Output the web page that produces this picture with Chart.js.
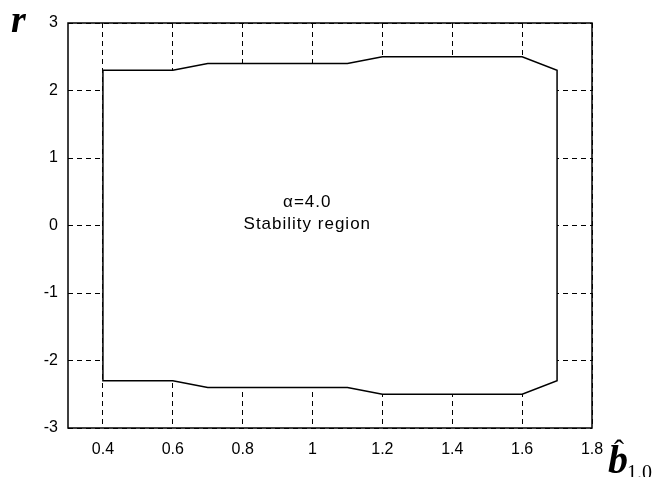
<!DOCTYPE html>
<html>
<head>
<meta charset="utf-8">
<script src="https://cdn.jsdelivr.net/npm/chart.js@4"></script>
<style>
  html, body { margin: 0; padding: 0; background: #fff; }
  #wrap { width: 653px; height: 477px; position: relative; }
</style>
</head>
<body>
<div id="wrap"><canvas id="chart"></canvas></div>
<script>
// boundary of the stability region (closed polygon)
const bHat = [0.4, 0.6, 0.7, 1.1, 1.2, 1.6, 1.7, 1.7, 1.6, 1.2, 1.1, 0.7, 0.6, 0.4, 0.4];
const rVals = [2.3, 2.3, 2.4, 2.4, 2.5, 2.5, 2.3, -2.3, -2.5, -2.5, -2.4, -2.4, -2.3, -2.3, 2.3];
const xTicks = [0.4, 0.6, 0.8, 1, 1.2, 1.4, 1.6, 1.8];
const yTicks = [-3, -2, -1, 0, 1, 2, 3];
const noteLines = ['\u03b1=4.0', 'Stability region'];

const tickFont = { family: 'Arial, "Liberation Sans", sans-serif', size: 16 };

const extras = {
  id: 'extras',
  afterDraw(c) {
    const g = c.ctx, a = c.chartArea;
    const xs = c.scales.x, ys = c.scales.y;
    g.save();
    // box round the plot
    g.strokeStyle = '#000';
    g.lineWidth = 1.5;
    g.setLineDash([]);
    g.strokeRect(a.left, a.top, a.right - a.left, a.bottom - a.top);

    // note in the middle
    g.fillStyle = '#000';
    g.font = '17px Arial, "Liberation Sans", sans-serif';
    g.textAlign = 'center';
    g.textBaseline = 'middle';
    try { g.letterSpacing = '1px'; } catch (e) {}
    g.fillText(noteLines[0], xs.getPixelForValue(0.985), ys.getPixelForValue(0.35));
    g.fillText(noteLines[1], xs.getPixelForValue(0.985), ys.getPixelForValue(0.02));
    try { g.letterSpacing = '0px'; } catch (e) {}

    // axis names
    g.textAlign = 'left';
    g.textBaseline = 'alphabetic';
    g.font = 'italic bold 38px "Liberation Serif", "Times New Roman", serif';
    g.fillText('r', 11, 32);

    g.font = 'italic bold 40px "Liberation Serif", "Times New Roman", serif';
    g.fillText('b', 608, 473);
    g.font = '30px "Liberation Serif", "Times New Roman", serif';
    g.textAlign = 'center';
    g.fillText('\u02c6', 619, 460);
    g.textAlign = 'left';
    g.font = '20px "Liberation Serif", "Times New Roman", serif';
    g.fillText('1.0', 627, 479);
    g.restore();
  }
};

new Chart(document.getElementById('chart'), {
  type: 'scatter',
  data: {
    datasets: [{
      data: bHat.map((x, i) => ({ x, y: rVals[i] })),
      showLine: true,
      borderColor: '#000',
      borderWidth: 1.5,
      backgroundColor: '#fff',
      pointRadius: 0,
      tension: 0,
      fill: 'shape'
    }]
  },
  options: {
    responsive: true,
    maintainAspectRatio: false,
    animation: false,
    layout: { padding: { left: 0, top: 23, right: 61, bottom: 0 } },
    plugins: { legend: { display: false }, tooltip: { enabled: false } },
    scales: {
      x: {
        type: 'linear',
        min: 0.3, max: 1.8,
        afterBuildTicks: s => { s.ticks = xTicks.map(v => ({ value: v })); },
        afterFit: s => { s.height = 49; },
        border: { display: false, dash: [5, 4] },
        grid: { color: '#000', lineWidth: 1, drawTicks: false },
        ticks: { color: '#000', font: tickFont, padding: 12, maxRotation: 0, autoSkip: false,
                 callback: v => String(v) }
      },
      y: {
        type: 'linear',
        min: -3, max: 3,
        afterBuildTicks: s => { s.ticks = yTicks.map(v => ({ value: v })); },
        afterFit: s => { s.width = 68; },
        border: { display: false, dash: [5, 4] },
        grid: { color: '#000', lineWidth: 1, drawTicks: false },
        ticks: { color: '#000', font: tickFont, padding: 10, autoSkip: false,
                 callback: v => String(v) }
      }
    }
  },
  plugins: [extras]
});
</script>
</body>
</html>
